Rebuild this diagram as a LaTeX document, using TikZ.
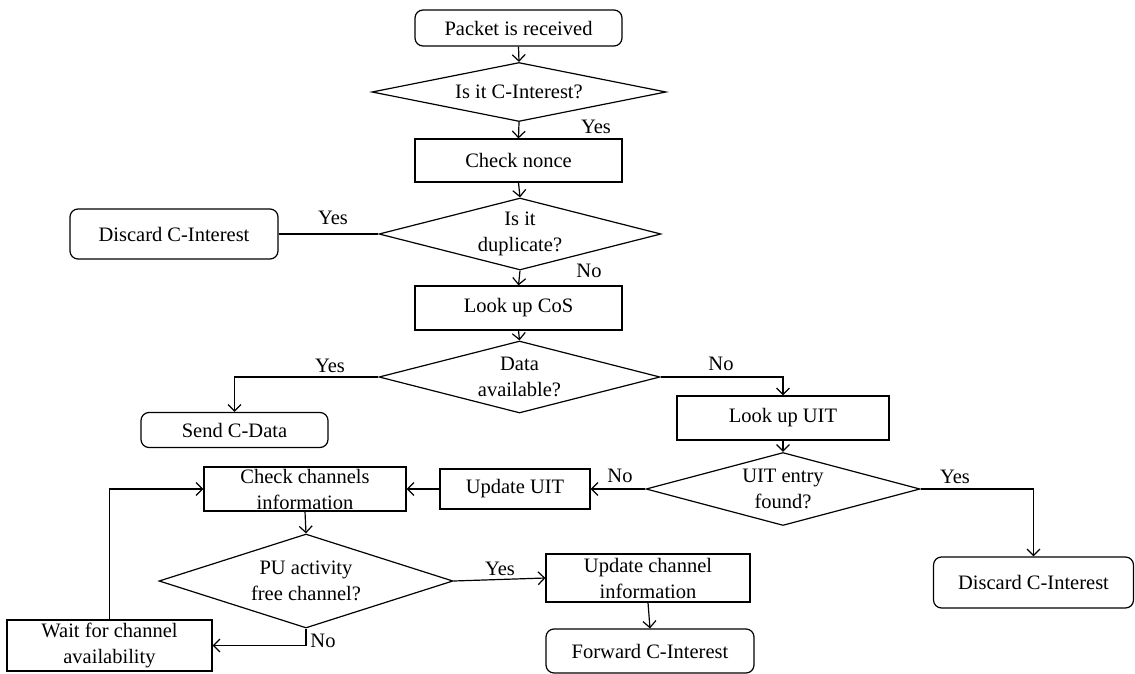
\documentclass[tikz,border=0pt]{standalone}
\usepackage{fontspec}
\setmainfont{Liberation Serif}
\usetikzlibrary{shapes.geometric,arrows.meta}

\tikzset{
  base/.style={draw, line width=1.2pt, align=center, inner sep=0pt,
    font=\fontsize{20.5}{26}\selectfont},
  procbox/.style={base, rectangle},
  termbox/.style={base, rectangle, rounded corners=8pt},
  decision/.style={base, diamond, shape aspect=#1},
  flow/.style={line width=1.2pt, -{Straight Barb[length=6.5pt,width=13pt,line width=1.2pt]}},
  plain/.style={line width=1.2pt},
  lbl/.style={font=\fontsize{20.5}{26}\selectfont, inner sep=0pt}
}

\begin{document}
\begin{tikzpicture}[x=1pt, y=-1pt]
\useasboundingbox (0,0) rectangle (1135,674);

% main column
\node[termbox, minimum width=207pt, minimum height=36pt] (start) at (518.5,28) {Packet is received};
\node[decision=5, minimum width=294pt, minimum height=59pt] (d1) at (519,92) {Is it C-Interest?};
\node[procbox, minimum width=207pt, minimum height=43pt] (nonce) at (518.5,160.5) {Check nonce};
\node[decision=3.9, minimum width=282pt, minimum height=72pt] (d2) at (520,234) {Is it\\duplicate?};
\node[termbox, minimum width=208pt, minimum height=50pt] (disc1) at (174,234) {Discard C-Interest};
\node[procbox, minimum width=207pt, minimum height=44pt] (cos) at (518.5,308) {Look up CoS};
\node[decision=3.9, minimum width=281pt, minimum height=72pt] (d3) at (519.5,377) {Data\\available?};
\node[termbox, minimum width=187pt, minimum height=35pt] (send) at (234.5,430) {Send C-Data};

% right branch
\node[procbox, minimum width=212pt, minimum height=44pt] (uit) at (783,418) {Look up UIT};
\node[decision=3.75, minimum width=274pt, minimum height=73pt] (d4) at (783,489) {UIT entry\\found?};
\node[termbox, minimum width=200pt, minimum height=51pt] (disc2) at (1033.5,582.5) {Discard C-Interest};
\node[procbox, minimum width=150pt, minimum height=40pt] (upd) at (515,489) {Update UIT};

% channel handling
\node[procbox, minimum width=202pt, minimum height=44pt] (chk) at (305,489) {Check channels\\information};
\node[decision=3.16, minimum width=294pt, minimum height=94pt] (d5) at (306,581) {PU activity\\free channel?};
\node[procbox, minimum width=204pt, minimum height=48pt] (updch) at (648,578) {Update channel\\information};
\node[termbox, minimum width=208pt, minimum height=44pt] (fwd) at (650,651) {Forward C-Interest};
\node[procbox, minimum width=205pt, minimum height=51pt] (wait) at (109.5,645.5) {Wait for channel\\availability};

% connectors
\draw[flow] (start.south) -- (d1.north);
\draw[flow] (d1.south) -- (nonce.north);
\draw[flow] (nonce.south) -- (d2.north);
\draw[plain] (d2.west) -- (disc1.east);
\draw[flow] (d2.south) -- (cos.north);
\draw[flow] (cos.south) -- (d3.north);
\draw[flow] (d3.west) -| (send.north);
\draw[flow] (d3.east) -| (uit.north);
\draw[flow] (uit.south) -- (d4.north);
\draw[flow] (d4.west) -- (upd.east);
\draw[flow] (d4.east) -| (disc2.north);
\draw[flow] (upd.west) -- (chk.east);
\draw[flow] (chk.south) -- (d5.north);
\draw[flow] (d5.east) -- (updch.west);
\draw[flow] (updch.south) -- (fwd.north);
\draw[flow] (d5.south) |- (wait.east);
\draw[flow] (wait.north) |- (chk.west);

% branch labels
\node[lbl] (y1) at (596,127) {Yes};
\node[lbl] (y2) at (333,218) {Yes};
\node[lbl] (n2) at (589,271) {No};
\node[lbl] (y3) at (330,366) {Yes};
\node[lbl] (n3) at (721,364) {No};
\node[lbl] (n4) at (620,476) {No};
\node[lbl] (y4) at (955,477) {Yes};
\node[lbl] (y5) at (500,569) {Yes};
\node[lbl] (n5) at (323,641) {No};
\end{tikzpicture}
\end{document}
